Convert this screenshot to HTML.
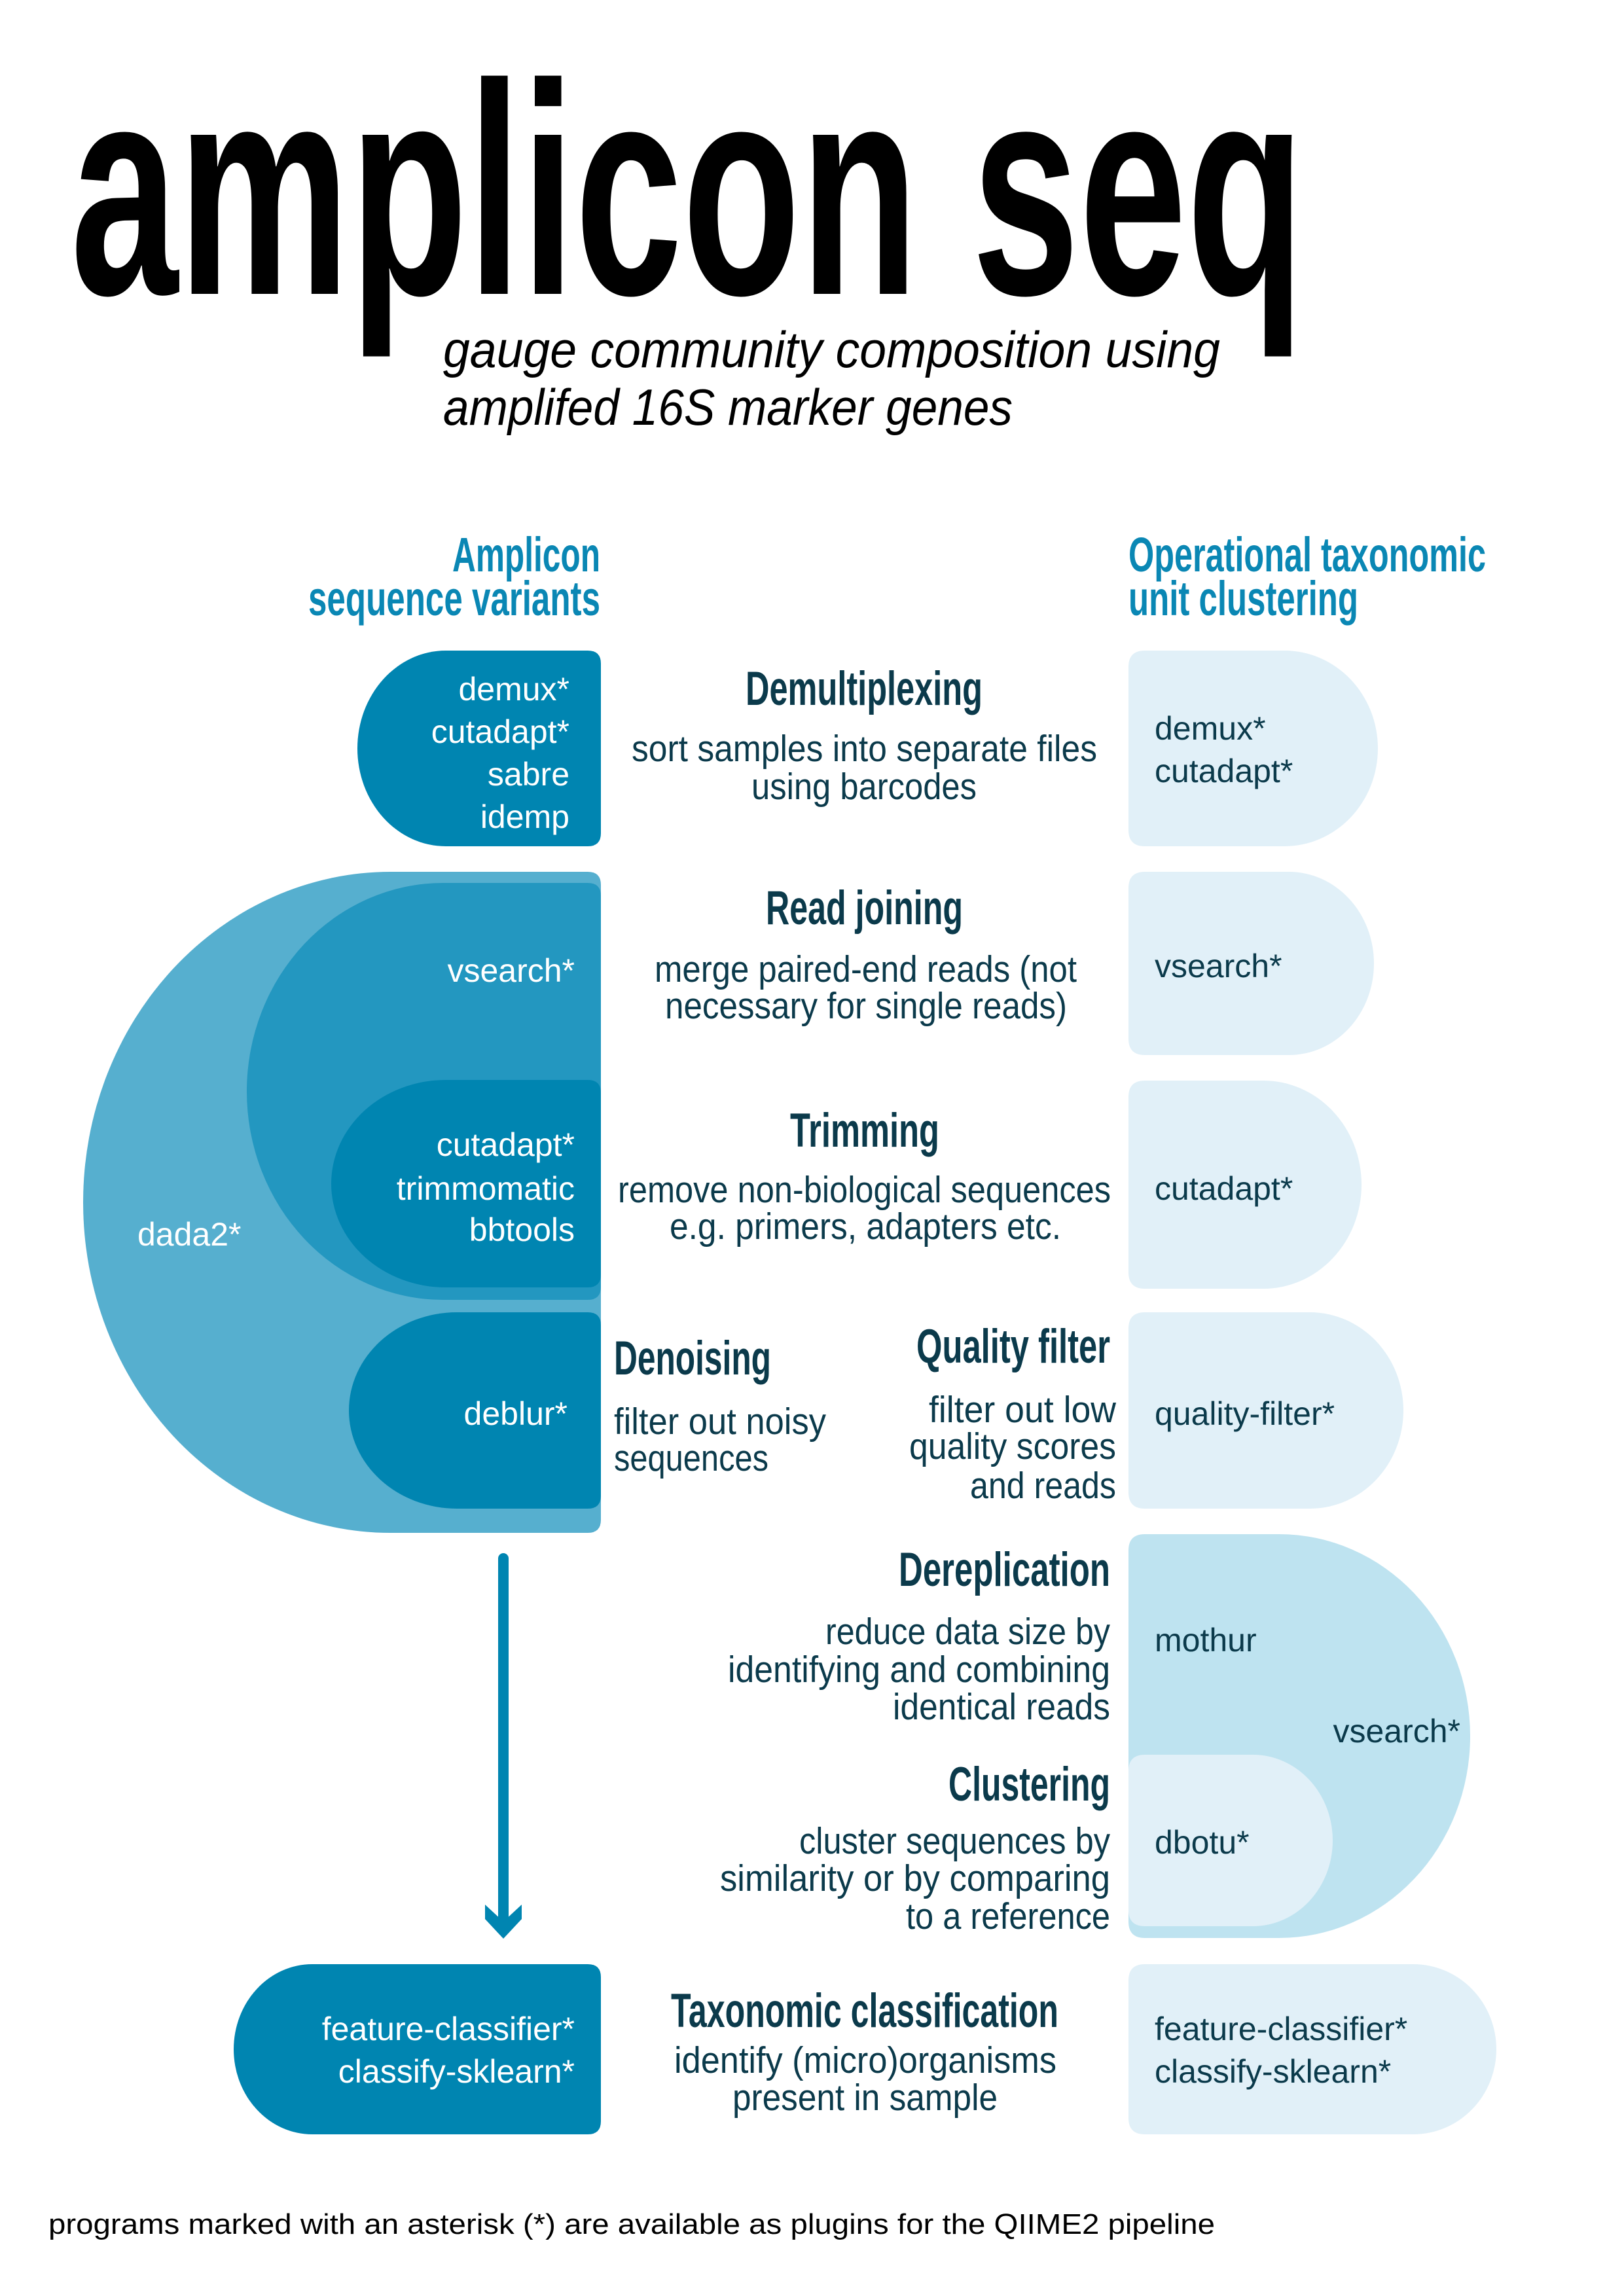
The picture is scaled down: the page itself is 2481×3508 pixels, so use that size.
<!DOCTYPE html>
<html><head><meta charset="utf-8"><style>
html,body{margin:0;padding:0;background:#fff;}
svg{display:block;}
text{font-family:"Liberation Sans",sans-serif;}
.h{font-weight:bold;font-size:73px;fill:#0b3a4b;}
.b{font-size:57px;fill:#0b3a4b;}
.w{font-size:50px;fill:#fff;}
.d{font-size:50px;fill:#0b3a4b;}
.t{font-weight:bold;font-size:74px;fill:#0a87b4;}
</style></head><body>
<svg width="2481" height="3508" viewBox="0 0 2481 3508" xmlns="http://www.w3.org/2000/svg">
<rect width="2481" height="3508" fill="#fff"/>
<text x="108" y="449" font-size="460" font-weight="bold" fill="#000" textLength="1885" lengthAdjust="spacingAndGlyphs">amplicon seq</text>
<text x="677" y="561" font-size="78" font-style="italic" fill="#000" textLength="1187" lengthAdjust="spacingAndGlyphs">gauge community composition using</text>
<text x="677" y="649" font-size="78" font-style="italic" fill="#000" textLength="870" lengthAdjust="spacingAndGlyphs">amplifed 16S marker genes</text>

<text class="t" x="691" y="873" textLength="226" lengthAdjust="spacingAndGlyphs">Amplicon</text>
<text class="t" x="471" y="940" textLength="446" lengthAdjust="spacingAndGlyphs">sequence variants</text>
<text class="t" x="1724" y="873" textLength="546" lengthAdjust="spacingAndGlyphs">Operational taxonomic</text>
<text class="t" x="1724" y="940" textLength="351" lengthAdjust="spacingAndGlyphs">unit clustering</text>

<!-- left shapes -->
<path fill="#56afcf" d="M597,1332 H898 Q918,1332 918,1352 V2322 Q918,2342 898,2342 H597 A470 505 0 0 1 127,1837 A470 505 0 0 1 597,1332Z"/>
<path fill="#2397c0" d="M677,1349 H898 Q918,1349 918,1369 V1966 Q918,1986 898,1986 H677 A300 318.5 0 0 1 377,1667.5 A300 318.5 0 0 1 677,1349Z"/>
<path fill="#0085b1" d="M681,1650 H898 Q918,1650 918,1670 V1947 Q918,1967 898,1967 H681 A175 158.5 0 0 1 506,1808.5 A175 158.5 0 0 1 681,1650Z"/>
<path fill="#0085b1" d="M698,2005 H898 Q918,2005 918,2025 V2285 Q918,2305 898,2305 H698 A165 150 0 0 1 533,2155 A165 150 0 0 1 698,2005Z"/>
<path fill="#0085b1" d="M681,994 H898 Q918,994 918,1014 V1273 Q918,1293 898,1293 H681 A135 149.5 0 0 1 546,1143.5 A135 149.5 0 0 1 681,994Z"/>
<path fill="#0085b1" d="M477,3001 H898 Q918,3001 918,3021 V3241 Q918,3261 898,3261 H477 A120 130 0 0 1 357,3131 A120 130 0 0 1 477,3001Z"/>

<!-- right shapes -->
<path fill="#e1f0f8" d="M1749,994 H1962 A143 149.5 0 0 1 2105,1143.5 A143 149.5 0 0 1 1962,1293 H1749 Q1724,1293 1724,1268 V1019 Q1724,994 1749,994Z"/>
<path fill="#e1f0f8" d="M1749,1332 H1969 A130 140 0 0 1 2099,1472 A130 140 0 0 1 1969,1612 H1749 Q1724,1612 1724,1587 V1357 Q1724,1332 1749,1332Z"/>
<path fill="#e1f0f8" d="M1749,1651 H1930 A150 159 0 0 1 2080,1810 A150 159 0 0 1 1930,1969 H1749 Q1724,1969 1724,1944 V1676 Q1724,1651 1749,1651Z"/>
<path fill="#e1f0f8" d="M1749,2005 H2001 A143 150 0 0 1 2144,2155 A143 150 0 0 1 2001,2305 H1749 Q1724,2305 1724,2280 V2030 Q1724,2005 1749,2005Z"/>
<path fill="#bee3f0" d="M1749,2344 H1954 A292 308.5 0 0 1 2246,2652.5 A292 308.5 0 0 1 1954,2961 H1749 Q1724,2961 1724,2936 V2369 Q1724,2344 1749,2344Z"/>
<path fill="#e1f0f8" d="M1749,2681 H1914 A122 131 0 0 1 2036,2812 A122 131 0 0 1 1914,2943 H1749 Q1724,2943 1724,2918 V2706 Q1724,2681 1749,2681Z"/>
<path fill="#e1f0f8" d="M1749,3001 H2159 A127 130 0 0 1 2286,3131 A127 130 0 0 1 2159,3261 H1749 Q1724,3261 1724,3236 V3026 Q1724,3001 1749,3001Z"/>

<!-- arrow -->
<line x1="769" y1="2381" x2="769" y2="2945" stroke="#0085b1" stroke-width="16" stroke-linecap="round"/>
<polygon fill="#0085b1" points="741,2910 769,2936 797,2910 797,2932 769,2962 741,2932"/>

<!-- left labels -->
<g class="w" text-anchor="end">
<text x="870" y="1070">demux*</text>
<text x="870" y="1135">cutadapt*</text>
<text x="870" y="1200">sabre</text>
<text x="870" y="1265">idemp</text>
<text x="878" y="1500">vsearch*</text>
<text x="878" y="1766">cutadapt*</text>
<text x="878" y="1833">trimmomatic</text>
<text x="878" y="1896">bbtools</text>
<text x="867" y="2177">deblur*</text>
<text x="878" y="3117">feature-classifier*</text>
<text x="878" y="3182">classify-sklearn*</text>
</g>
<text class="w" x="210" y="1903">dada2*</text>

<!-- right labels -->
<g class="d">
<text x="1764" y="1130">demux*</text>
<text x="1764" y="1195">cutadapt*</text>
<text x="1764" y="1493">vsearch*</text>
<text x="1764" y="1833">cutadapt*</text>
<text x="1764" y="2177">quality-filter*</text>
<text x="1764" y="2523">mothur</text>
<text x="2231" y="2662" text-anchor="end">vsearch*</text>
<text x="1764" y="2832">dbotu*</text>
<text x="1764" y="3117">feature-classifier*</text>
<text x="1764" y="3182">classify-sklearn*</text>
</g>

<!-- middle text -->
<text class="h" x="1139" y="1077" textLength="362" lengthAdjust="spacingAndGlyphs">Demultiplexing</text>
<text class="b" x="965" y="1163" textLength="711" lengthAdjust="spacingAndGlyphs">sort samples into separate files</text>
<text class="b" x="1148" y="1221" textLength="344" lengthAdjust="spacingAndGlyphs">using barcodes</text>

<text class="h" x="1170" y="1412" textLength="301" lengthAdjust="spacingAndGlyphs">Read joining</text>
<text class="b" x="1000" y="1500" textLength="645" lengthAdjust="spacingAndGlyphs">merge paired-end reads (not</text>
<text class="b" x="1016" y="1556" textLength="614" lengthAdjust="spacingAndGlyphs">necessary for single reads)</text>

<text class="h" x="1207" y="1752" textLength="228" lengthAdjust="spacingAndGlyphs">Trimming</text>
<text class="b" x="944" y="1837" textLength="753" lengthAdjust="spacingAndGlyphs">remove non-biological sequences</text>
<text class="b" x="1023" y="1893" textLength="598" lengthAdjust="spacingAndGlyphs">e.g. primers, adapters etc.</text>

<text class="h" x="938" y="2100" textLength="240" lengthAdjust="spacingAndGlyphs">Denoising</text>
<text class="b" x="938" y="2191" textLength="324" lengthAdjust="spacingAndGlyphs">filter out noisy</text>
<text class="b" x="938" y="2247" textLength="236" lengthAdjust="spacingAndGlyphs">sequences</text>

<text class="h" x="1400" y="2082" textLength="296" lengthAdjust="spacingAndGlyphs">Quality filter</text>
<text class="b" x="1419" y="2173" textLength="286" lengthAdjust="spacingAndGlyphs">filter out low</text>
<text class="b" x="1389" y="2229" textLength="316" lengthAdjust="spacingAndGlyphs">quality scores</text>
<text class="b" x="1482" y="2289" textLength="223" lengthAdjust="spacingAndGlyphs">and reads</text>

<text class="h" x="1373" y="2423" textLength="323" lengthAdjust="spacingAndGlyphs">Dereplication</text>
<text class="b" x="1261" y="2512" textLength="435" lengthAdjust="spacingAndGlyphs">reduce data size by</text>
<text class="b" x="1112" y="2570" textLength="584" lengthAdjust="spacingAndGlyphs">identifying and combining</text>
<text class="b" x="1364" y="2627" textLength="332" lengthAdjust="spacingAndGlyphs">identical reads</text>

<text class="h" x="1449" y="2751" textLength="247" lengthAdjust="spacingAndGlyphs">Clustering</text>
<text class="b" x="1221" y="2832" textLength="475" lengthAdjust="spacingAndGlyphs">cluster sequences by</text>
<text class="b" x="1100" y="2889" textLength="596" lengthAdjust="spacingAndGlyphs">similarity or by comparing</text>
<text class="b" x="1384" y="2947" textLength="312" lengthAdjust="spacingAndGlyphs">to a reference</text>

<text class="h" x="1025" y="3097" textLength="592" lengthAdjust="spacingAndGlyphs">Taxonomic classification</text>
<text class="b" x="1030" y="3167" textLength="584" lengthAdjust="spacingAndGlyphs">identify (micro)organisms</text>
<text class="b" x="1119" y="3224" textLength="405" lengthAdjust="spacingAndGlyphs">present in sample</text>

<text x="74" y="3413" font-size="44" fill="#000" textLength="1782" lengthAdjust="spacingAndGlyphs">programs marked with an asterisk (*) are available as plugins for the QIIME2 pipeline</text>
</svg>
</body></html>
